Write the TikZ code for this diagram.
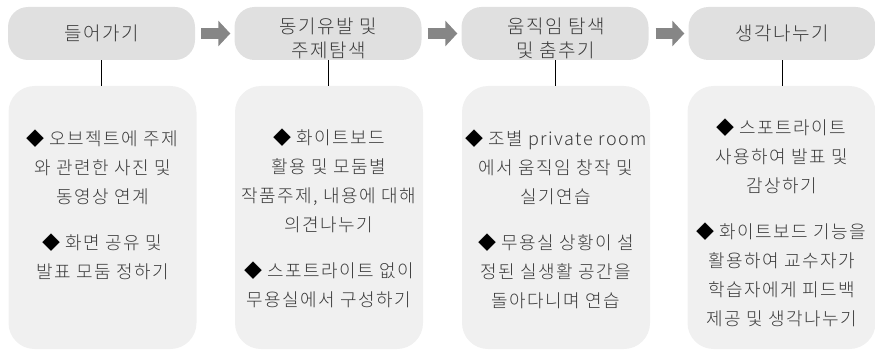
\documentclass[tikz,border=0pt]{standalone}
\usepackage{fontspec}
\newfontfamily\kr{Noto Sans CJK KR Light}[LetterSpace=8]
\usetikzlibrary{arrows.meta}
\definecolor{topfill}{HTML}{E0E0E0}
\definecolor{botfill}{HTML}{F0F0F0}
\definecolor{arrowgray}{HTML}{868686}
\definecolor{txt}{HTML}{3A3A3A}
\begin{document}
\begin{tikzpicture}[x=1pt,y=-1pt,
  topbox/.style={fill=topfill, rounded corners=20pt, minimum width=187pt, minimum height=53pt, inner sep=0pt, text=txt, font=\kr\fontsize{19}{24}\selectfont, align=center},
  toptext/.style={text=txt, font=\kr\fontsize{19}{24}\selectfont, align=center, inner sep=0pt},
  botbox/.style={fill=botfill, rounded corners=26pt, minimum width=188pt, minimum height=263pt, inner sep=0pt},
  bodytext/.style={text=txt, font=\kr\fontsize{18}{29}\selectfont, align=center, inner sep=0pt},
  flow/.style={arrowgray, line width=11pt, -{Triangle[length=12pt,width=25pt]}},
  link/.style={black, line width=0.8pt}]
\useasboundingbox (0,0) rectangle (875,350);
\newcommand{\dia}{{\color{black}◆}}
% top boxes
\node[topbox] (t1) at (101.5,33.5) {들어가기};
\node[topbox] (t2) at (328,33.5) {};
\node[topbox] (t3) at (555,33.5) {};
\node[topbox] (t4) at (782,33.5) {생각나누기};
\node[toptext] (l2) at (328.5,38) {동기유발 및\\주제탐색};
\node[toptext] (l3) at (556,38) {움직임 탐색\\및 춤추기};
% bottom boxes
\node[botbox] (b1) at (102.5,217.5) {};
\node[botbox] (b2) at (329,217.5) {};
\node[botbox] (b3) at (556,217.5) {};
\node[botbox] (b4) at (781.5,217.5) {};
% texts
\node[bodytext] (x1) at (102.5,204.5) {\dia{} 오브젝트에 주제\\와 관련한 사진 및\\동영상 연계\\[17pt]\dia{} 화면 공유 및\\발표 모둠 정하기};
\node[bodytext] (x2) at (329,218.5) {\dia{} 화이트보드\\활용 및 모둠별\\작품주제, 내용에 대해\\의견나누기\\[17pt]\dia{} 스포트라이트 없이\\무용실에서 구성하기};
\node[bodytext] (x3) at (556,219) {\dia{} 조별 private room\\에서 움직임 창작 및\\실기연습\\[17pt]\dia{} 무용실 상황이 설\\정된 실생활 공간을\\돌아다니며 연습};
\node[bodytext] (x4) at (781.5,223) {\dia{} 스포트라이트\\사용하여 발표 및\\감상하기\\[17pt]\dia{} 화이트보드 기능을\\활용하여 교수자가\\학습자에게 피드백\\제공 및 생각나누기};
% arrows
\draw[flow] ([xshift=6pt]t1.east) -- ([xshift=-4pt]t2.west);
\draw[flow] ([xshift=6pt]t2.east) -- ([xshift=-4pt]t3.west);
\draw[flow] ([xshift=7pt]t3.east) -- ([xshift=-4pt]t4.west);
% links
\draw[link] (t1.south) -- (t1.south |- b1.north);
\draw[link] (t2.south) -- (t2.south |- b2.north);
\draw[link] (t3.south) -- (t3.south |- b3.north);
\draw[link] (t4.south) -- (t4.south |- b4.north);
\end{tikzpicture}
\end{document}
